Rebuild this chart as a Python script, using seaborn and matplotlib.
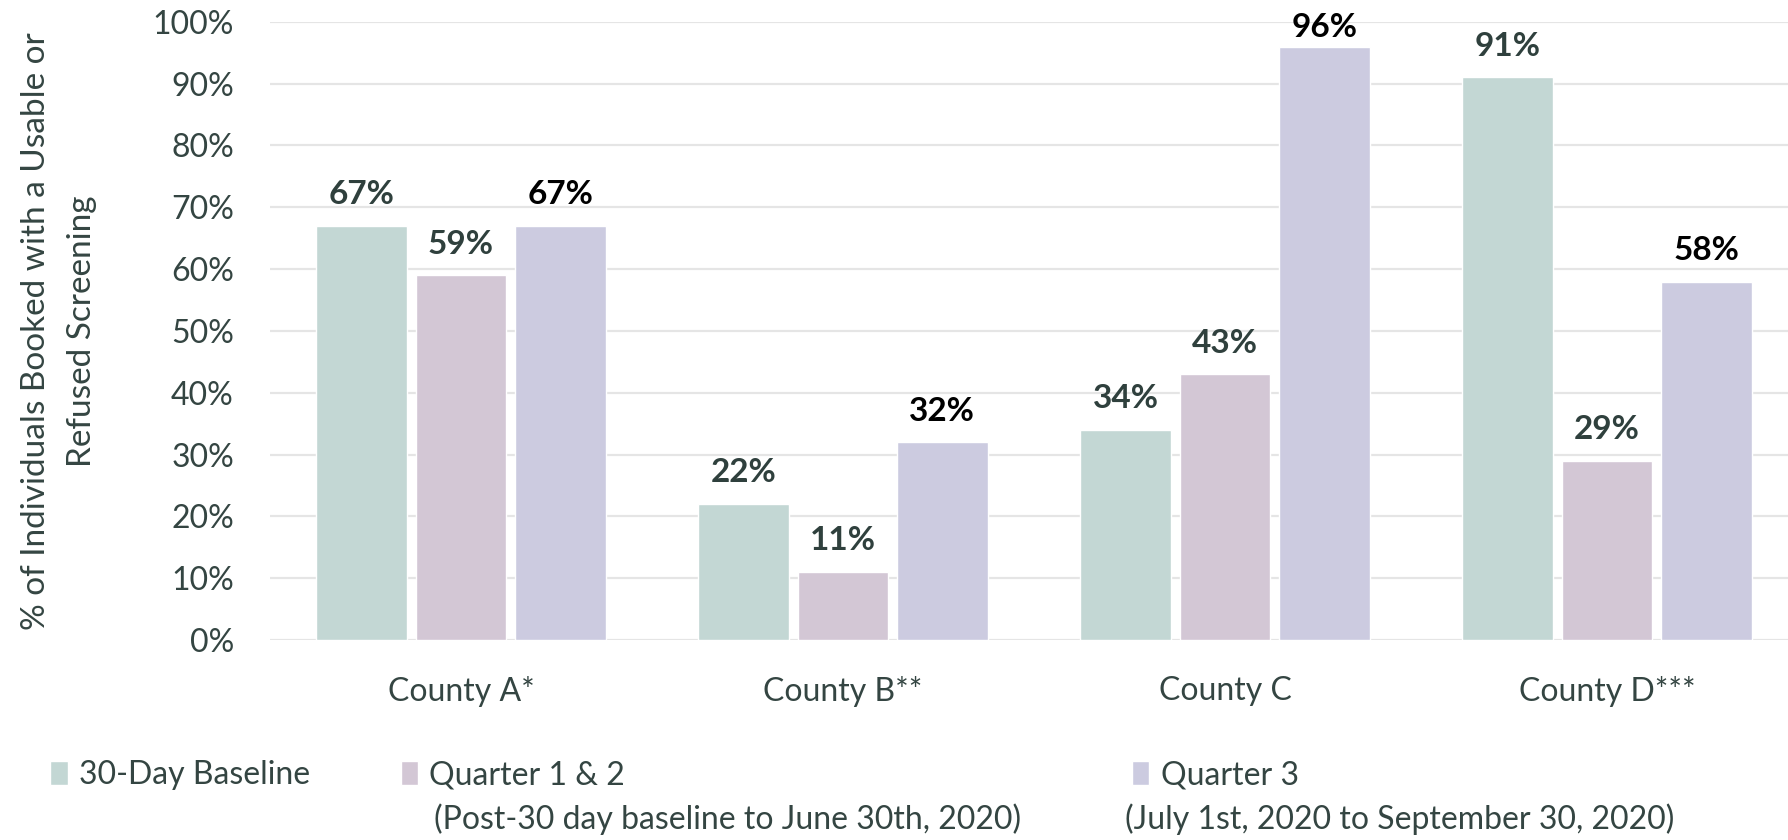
import matplotlib
matplotlib.use("Agg")
import matplotlib.pyplot as plt
import matplotlib.ticker as mticker
import pandas as pd
import seaborn as sns

# Data
counties = ["County A*", "County B**", "County C", "County D***"]
periods = ["30-Day Baseline", "Quarter 1 & 2", "Quarter 3"]
period_notes = ["", "(Post-30 day baseline to June 30th, 2020)", "(July 1st, 2020 to September 30, 2020)"]
baseline = [0.67, 0.22, 0.34, 0.91]
quarter_12 = [0.59, 0.11, 0.43, 0.29]
quarter_3 = [0.67, 0.32, 0.96, 0.58]

colors = ["#C3D7D4", "#D3C7D5", "#CCCBE0"]
label_colors = ["#2F403D", "#2F403D", "#000000"]
text_color = "#344542"

df = pd.DataFrame({
    "county": counties * 3,
    "period": [p for p in periods for _ in counties],
    "value": baseline + quarter_12 + quarter_3,
})

sns.set_theme(style="white")
plt.rcParams["font.family"] = ["Lato", "DejaVu Sans"]
plt.rcParams["text.color"] = text_color

fig = plt.figure(figsize=(17.88, 8.4), dpi=100)
ax = fig.add_axes([0.151, 0.238, 0.849, 0.736])

sns.barplot(data=df, x="county", y="value", hue="period", hue_order=periods,
            palette=colors, width=0.78, gap=0.09, saturation=1, ax=ax, errorbar=None)

handles, _ = ax.get_legend_handles_labels()
ax.get_legend().remove()

for cont, lc in zip(ax.containers, label_colors):
    texts = ax.bar_label(cont, labels=[f"{v.get_height():.0%}" for v in cont], padding=12,
                         fontsize=24, fontweight="bold", color=lc)
    # keep labels near the top inside the chart area, like the original
    for t, v in zip(texts, cont):
        if v.get_height() > 0.93:
            t.xyann = (0, 3)

ax.set_ylim(0, 1.0)
ax.set_xlim(-0.5, -0.5 + 1518 / 382)
ax.yaxis.set_major_locator(mticker.MultipleLocator(0.1))
ax.yaxis.set_major_formatter(mticker.PercentFormatter(1.0, decimals=0))
ax.grid(axis="y", color="#E5E5E5", linewidth=1.6)
ax.set_axisbelow(True)
for s in ["top", "right", "left", "bottom"]:
    ax.spines[s].set_visible(False)
ax.axhline(0, color="#DADADA", linewidth=1.8, zorder=0.5)

ax.tick_params(axis="y", labelsize=23, labelcolor=text_color, pad=26, length=0)
ax.tick_params(axis="x", labelsize=23, labelcolor=text_color, pad=26, length=0)
ax.set_xlabel("")
ax.set_ylabel("% of Individuals Booked with a Usable or\nRefused Screening", fontsize=24,
              color=text_color, labelpad=40, linespacing=1.65)

# legend: one entry per period, second line as separate text
leg_x = [0.028, 0.224, 0.633]
note_x = [None, 0.243, 0.629]
for h, p, lx in zip(handles, periods, leg_x):
    leg = fig.legend([h], [p], loc="center left", bbox_to_anchor=(lx, 0.077),
                     frameon=False, fontsize=23, handlelength=0.55, handleheight=0.75,
                     handletextpad=0.35, borderaxespad=0, borderpad=0)
    for t in leg.get_texts():
        t.set_color(text_color)
for note, nx in zip(period_notes, note_x):
    if note:
        fig.text(nx, 0.025, note, fontsize=23, color=text_color, va="center", ha="left")

fig.savefig("out.png", dpi=100)
